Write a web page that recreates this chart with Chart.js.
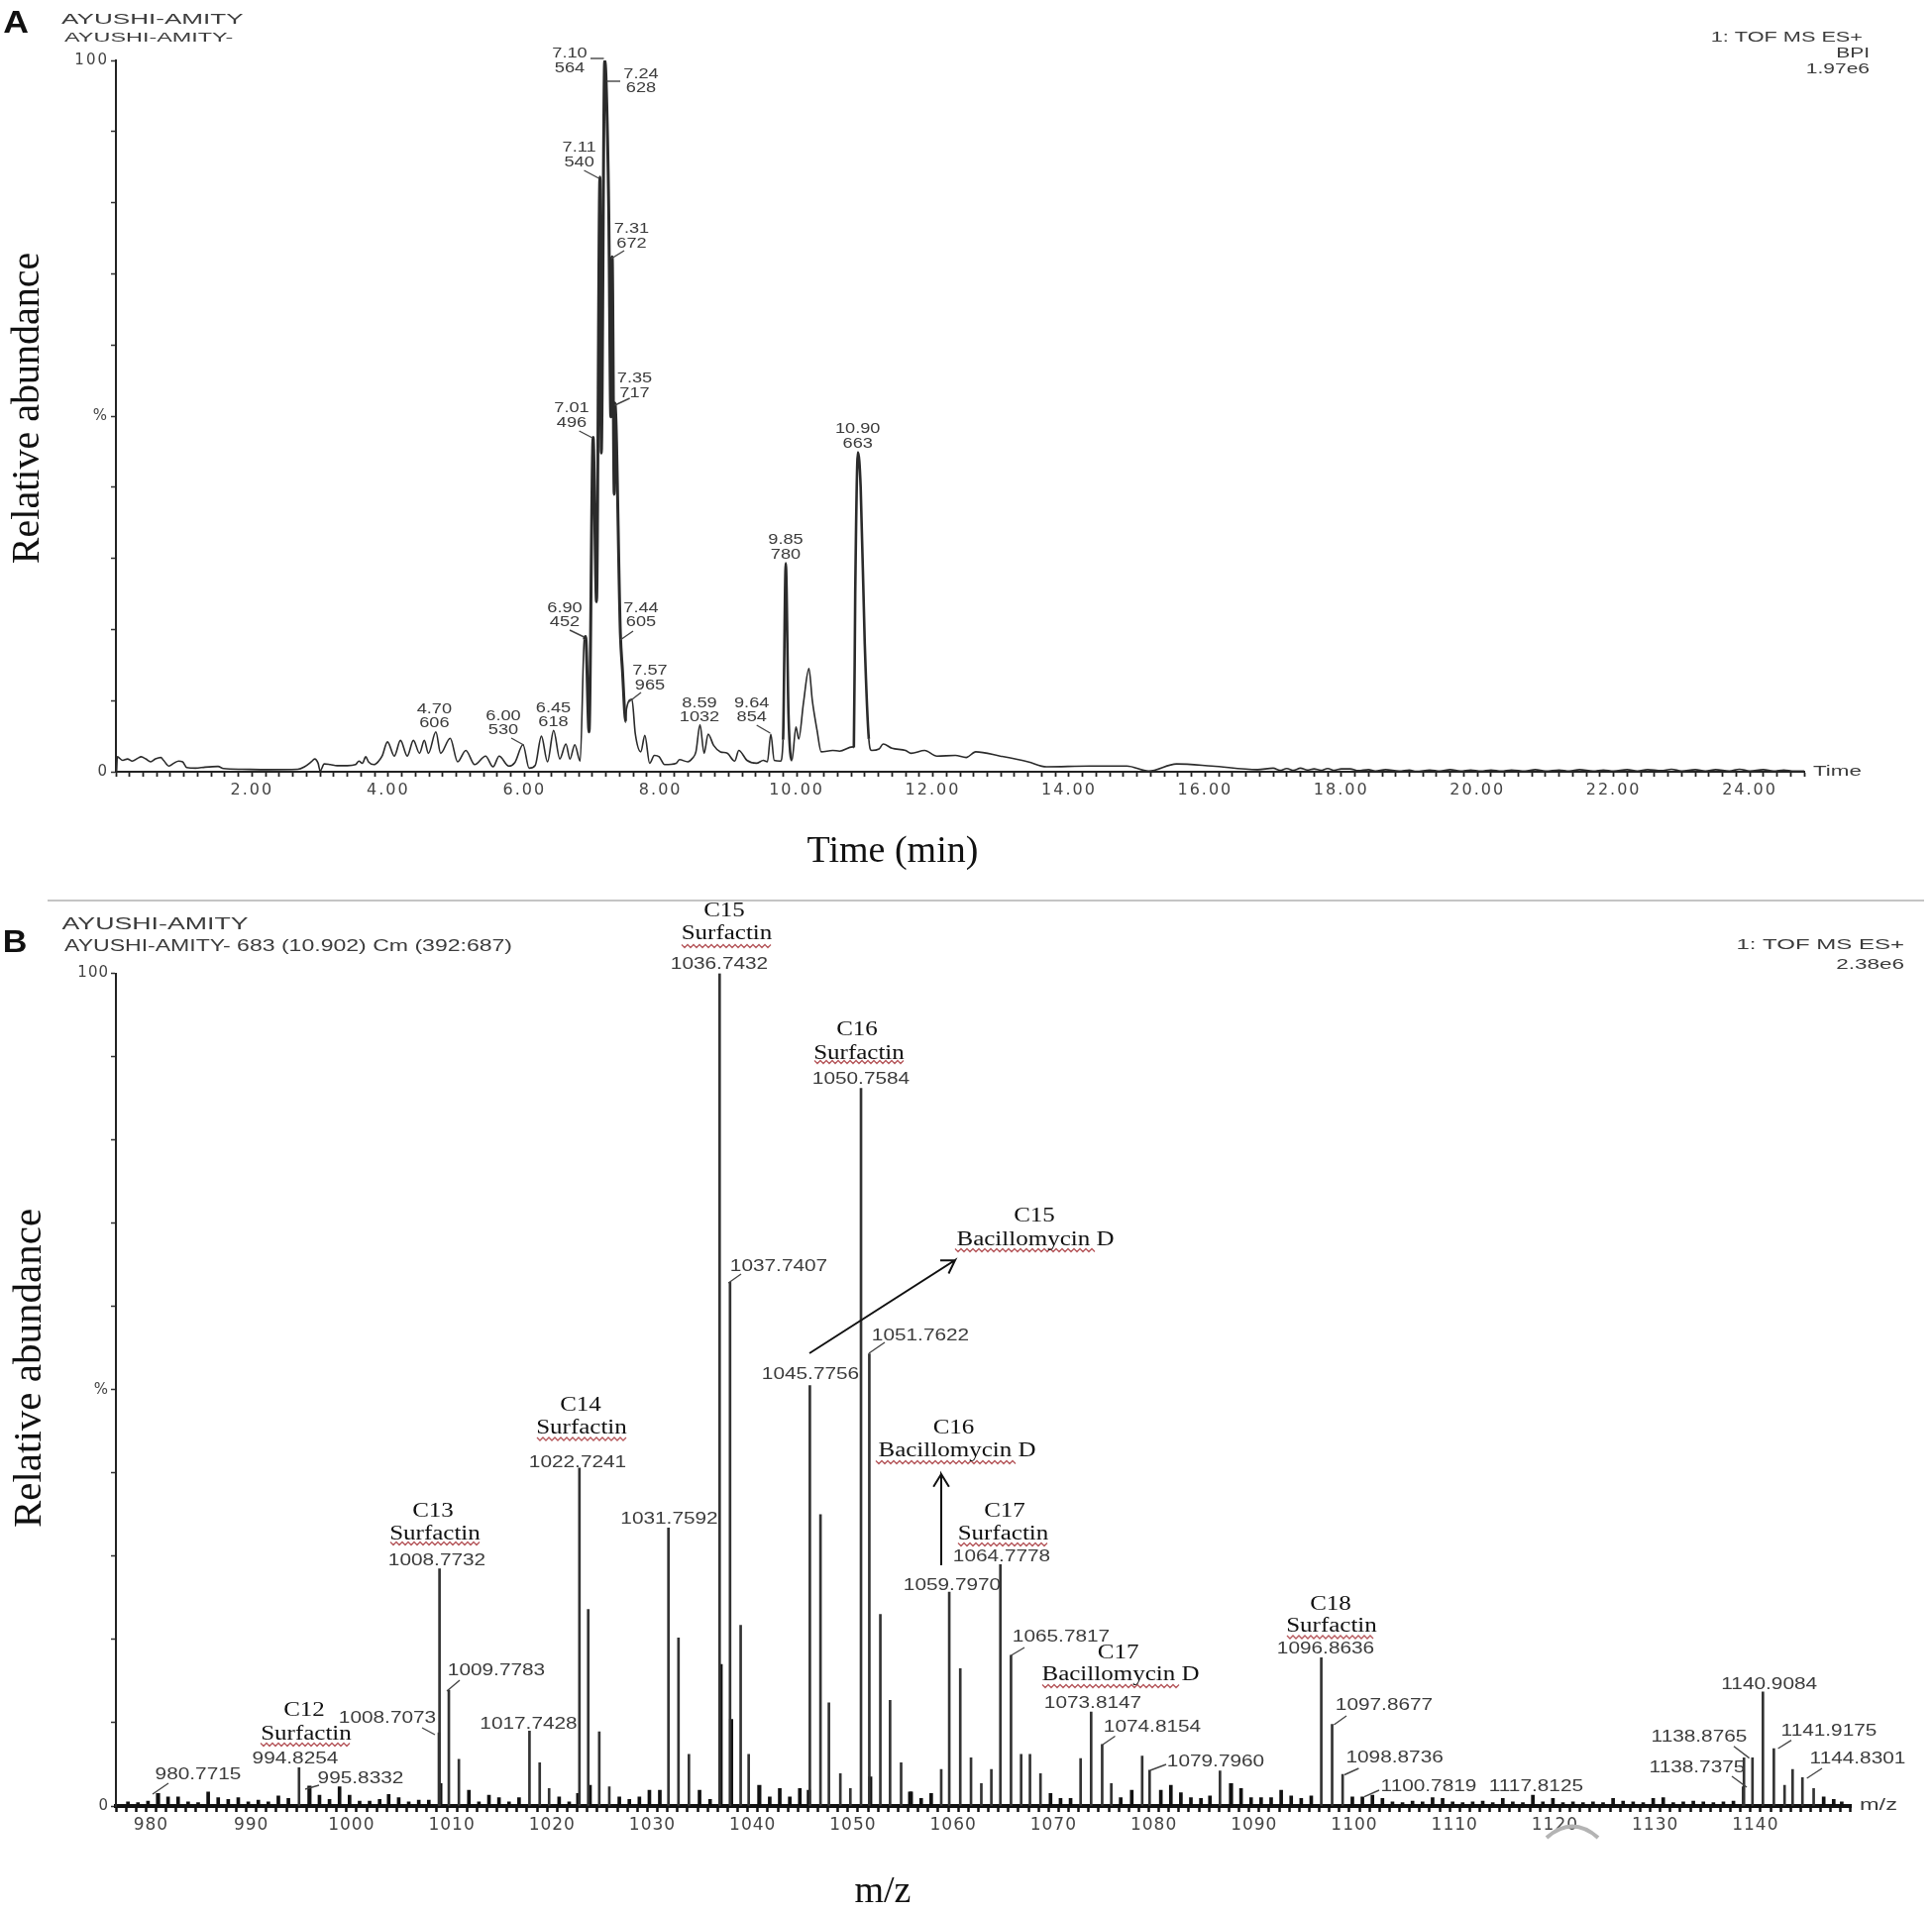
<!DOCTYPE html>
<html>
<head>
<meta charset="utf-8">
<title>TOF MS</title>
<script src="https://cdn.jsdelivr.net/npm/chart.js@4/dist/chart.umd.min.js"></script>
<style>
  html, body { margin: 0; background: #fff; }
  body { width: 1950px; height: 1932px; position: relative; overflow: hidden; }
  canvas { position: absolute; left: 0; top: 0; filter: blur(0.6px); }
</style>
</head>
<body>
<canvas id="chartA" width="1950" height="1932"></canvas>
<canvas id="chartB" width="1950" height="1932"></canvas>
<script>
// panel A - chromatogram
const timeMin = [0.01,0.02,0.1,0.17,0.24,0.32,0.37,0.44,0.51,0.58,0.66,0.7,0.78,0.85,0.92,0.98,1.04,1.17,1.31,1.5,1.58,1.85,2.23,2.67,2.77,2.87,2.92,2.97,3.0,3.06,3.15,3.25,3.4,3.52,3.57,3.62,3.67,3.71,3.79,3.86,3.91,3.99,4.09,4.18,4.28,4.37,4.46,4.53,4.59,4.7,4.77,4.91,5.02,5.14,5.27,5.43,5.54,5.63,5.77,5.86,5.98,6.07,6.16,6.25,6.34,6.43,6.52,6.61,6.67,6.74,6.82,6.88,6.9,6.95,7.01,7.06,7.11,7.13,7.18,7.2,7.24,7.27,7.29,7.32,7.33,7.41,7.44,7.49,7.5,7.58,7.63,7.71,7.77,7.84,7.91,7.98,8.06,8.23,8.28,8.4,8.47,8.52,8.58,8.64,8.7,8.78,8.88,8.98,9.09,9.15,9.27,9.41,9.51,9.57,9.62,9.67,9.76,9.8,9.84,9.88,9.93,9.99,10.03,10.1,10.18,10.23,10.3,10.36,10.53,10.63,10.82,10.84,10.86,10.9,10.94,11.0,11.06,11.1,11.21,11.27,11.4,11.6,11.68,11.88,12.06,12.33,12.49,12.63,12.99,13.4,13.67,14.3,14.85,15.17,15.58,16.1,16.77,17.0,17.1,17.2,17.3,17.4,17.5,17.6,17.7,17.8,17.9,18.0,18.13,18.25,18.4,18.5,18.65,18.85,19.0,19.1,19.3,19.45,19.6,19.75,19.9,20.05,20.2,20.35,20.5,20.7,20.85,21.0,21.2,21.35,21.5,21.7,21.85,22.0,22.2,22.35,22.5,22.7,22.85,23.0,23.2,23.35,23.5,23.7,23.85,24.0,24.2,24.35,24.5,24.65,24.8];
const abundancePct = [0,2.1,1.6,1.8,1.5,1.9,2.1,1.8,1.4,1.8,2,1.6,0.8,1.2,1.5,1.4,0.6,0.5,0.65,0.75,0.45,0.35,0.3,0.35,0.7,1.4,1.8,1.2,0.1,1.1,1,0.85,0.85,1,1.5,1.2,2.1,1.4,1,1.5,2.2,4.2,2.2,4.4,2.2,4.4,2.6,4.4,2.6,5.6,2.6,4.7,1.4,3,1,2.2,0.7,2.2,0.8,1.3,3.8,0.5,0.9,5,1.4,5.8,1.8,3.9,1.8,3.8,1.5,18.6,19,5.6,47,23.9,83.6,44.8,100,97.3,78.5,49.9,72.4,39,51.8,19.5,14.4,7,8.8,10.2,5.3,2.8,5.1,1.2,2.3,2.1,1,1.2,1.7,1.4,1.9,2.8,6.6,2.6,5.3,3.7,2.8,2.6,1.5,3,1.6,1.2,1.6,1.4,5.3,1.6,1.5,4.5,29.3,8,1.6,6.3,4.6,9.7,14.5,10,5.8,2.8,3,2.9,3.5,3.4,25,44.9,40,18,4.6,3,3.2,3.9,3.3,3,2.6,3,2.2,2.3,2,2.8,2.2,1.4,0.7,0.8,0.8,0.1,1.1,0.8,0.3,0.5,0.2,0.45,0.2,0.5,0.25,0.4,0.2,0.45,0.2,0.4,0.4,0.15,0.3,0.1,0.3,0.1,0.25,0.05,0.25,0.1,0.3,0.1,0.25,0.1,0.25,0.1,0.25,0.1,0.3,0.1,0.25,0.1,0.3,0.1,0.25,0.1,0.3,0.1,0.3,0.15,0.35,0.1,0.3,0.1,0.3,0.1,0.35,0.1,0.3,0.1,0.25,0.1,0.1];
const timeTickLabels = ["2.00","4.00","6.00","8.00","10.00","12.00","14.00","16.00","18.00","20.00","22.00","24.00"];

// panel B - mass spectrum, tall sticks
const stickMz = [994.76,1008.71,1008.77,1009.7,1010.7,1017.74,1018.76,1019.7,1022.72,1023.6,1024.7,1025.7,1031.6,1032.6,1033.64,1036.7,1037.74,1038.8,1039.6,1045.7,1046.76,1047.6,1048.74,1049.74,1050.8,1051.63,1052.73,1053.7,1054.8,1058.8,1059.6,1060.7,1061.77,1062.8,1063.8,1064.7,1065.76,1066.77,1067.65,1068.7,1072.7,1073.75,1074.85,1075.76,1078.84,1079.58,1086.6,1096.7,1097.78,1098.83,1138.76,1138.85,1139.7,1140.74,1141.83,1142.9,1143.7,1144.68,1145.8];
const stickPct = [4.6,8.8,28.5,13.9,5.6,9,5.2,2.1,40.6,23.6,8.9,2.3,33.4,20.2,6.2,100,62.9,21.7,6.2,50.5,35,12.4,3.9,2.1,86.2,54.3,23,12.7,5.2,4.4,25.7,16.5,5.8,2.7,4.4,29,18.1,6.2,6.2,3.9,5.7,11.3,7.4,2.7,6,4.3,4.2,17.8,9.8,3.8,2.3,5.8,5.8,13.7,6.9,2.5,4.4,3.4,2.1];
// short heavy stubs at the foot of the big peaks
const stubMz = [980.7,995.8,1008.85,1022.6,1023.75,1036.8,1037.85,1040.66,1045.6,1051.72,1055.7,1087.7];
const stubPct = [1.5,2.4,2.7,1.5,2.5,17,10.4,2.5,1.9,3.5,1.7,2.7];
// grass along the baseline
const grassMz = [977.7,978.7,979.7,981.7,982.7,983.7,984.7,985.7,986.7,987.7,988.7,989.7,990.7,991.7,992.7,993.7,996.8,997.8,998.8,999.8,1000.8,1001.8,1002.8,1003.7,1004.7,1005.7,1006.7,1007.7,1011.7,1012.7,1013.7,1014.7,1015.7,1016.7,1020.7,1021.7,1026.7,1027.7,1028.7,1029.7,1030.74,1034.7,1035.75,1041.7,1042.7,1043.7,1044.7,1055.8,1056.8,1057.8,1069.7,1070.7,1071.7,1076.7,1077.8,1080.7,1081.7,1082.7,1083.7,1084.7,1085.6,1088.7,1089.7,1090.7,1091.7,1092.7,1093.7,1094.7,1095.7,1099.8,1100.8,1101.8,1102.8,1103.8,1104.8,1105.8,1106.8,1107.8,1108.8,1109.8,1110.8,1111.8,1112.8,1113.8,1114.8,1115.8,1116.8,1117.8,1118.8,1119.8,1120.8,1121.8,1122.8,1123.8,1124.8,1125.8,1126.8,1127.8,1128.8,1129.8,1130.8,1131.8,1132.8,1133.8,1134.8,1135.8,1136.8,1137.8,1146.8,1147.8,1148.6];
const grassPct = [0.5,0.4,0.6,1.1,1.1,0.5,0.4,1.7,1,0.8,1,0.5,0.7,0.5,1.2,0.9,1.3,0.8,2.3,1.3,0.6,0.6,0.8,1.4,1,0.5,0.7,0.7,1.9,0.5,1.3,1,0.5,1,1.1,0.5,1.1,0.8,1.1,1.9,1.9,1.9,0.8,1.1,2.1,1.1,2.1,1.7,0.9,1.5,1.5,0.9,0.9,1,1.9,1.9,2.5,1.6,1,0.9,1.2,2.1,1,1,1,1.9,1.2,0.9,1.2,1.1,1.1,1.3,0.9,0.5,0.4,0.6,0.5,1,0.9,0.5,0.4,0.5,0.6,0.4,0.9,0.5,0.4,1.3,0.5,0.9,0.4,0.5,0.4,0.5,0.4,0.9,0.6,0.5,0.4,0.9,1,0.4,0.5,0.6,0.5,0.4,0.5,0.6,1.1,0.8,0.5];
const mzTickLabels = ["980","990","1000","1010","1020","1030","1040","1050","1060","1070","1080","1090","1100","1110","1120","1130","1140"];

// text on the picture, page pixels
const peakLabelsA = [["7.10",575,54],["564",575,69],["7.24",647,75],["628",647,89.5],["7.11",584.6,149],["540",584.6,164],["7.31",637.5,231],["672",637.5,246],["7.35",640.5,382],["717",640.5,397],["7.01",577,412],["496",577,427],["10.90",865.7,433],["663",865.7,448],["9.85",793,545],["780",793,560],["6.90",570,614],["452",570,628.5],["7.44",647,614],["605",647,628.5],["7.57",656,677],["965",656,692],["4.70",438.4,716],["606",438.4,730],["6.00",508,723],["530",508,737.6],["6.45",558.5,715],["618",558.5,729],["8.59",706,710],["1032",706,724],["9.64",758.7,710],["854",758.7,724]];
const leadersA = [[596,59,609.5,59],[612.5,82,626,82],[589.5,172,604.5,180],[617,261,630,253],[620.6,409,635.6,402],[584.6,435,598,442],[575,636,589.5,643],[626,646,639,637],[634,709,647,699],[516,745,528.6,752],[763.7,732,777.4,740]];
const peakLabelsB = [["1036.7432",726,974],["1050.7584",869,1090],["1037.7407",786,1279],["1051.7622",929,1349],["1045.7756",818,1388],["1022.7241",583,1477],["1008.7732",441,1576],["1031.7592",675.5,1534],["1009.7783",501,1687],["1008.7073",391,1735],["1017.7428",533.5,1741],["994.8254",298,1776],["980.7715",200,1792],["995.8332",364,1796],["1064.7778",1011,1572],["1059.7970",961,1601],["1065.7817",1071,1652.5],["1073.8147",1103,1720],["1074.8154",1163,1744],["1079.7960",1227,1779],["1096.8636",1338,1665],["1097.8677",1397,1722],["1098.8736",1407.6,1775],["1100.7819",1442,1803.4],["1117.8125",1550.4,1804],["1140.9084",1785.7,1701],["1138.8765",1715,1754],["1141.9175",1846,1748],["1138.7375",1713,1785],["1144.8301",1875,1776]];
const leadersB = [[735.2,1295,748,1286],[877,1366,893,1355],[451,1707,464,1696],[426,1744,439,1751],[154,1811,170,1800],[308,1806,322,1802],[1020.5,1671,1034,1663],[1113,1761,1125.5,1752.5],[1161,1787,1177,1781],[1346.4,1741,1359,1732],[1357,1791.5,1371.4,1785],[1377,1813.6,1392,1807],[1765.6,1774.6,1750,1762.7],[1794.6,1765,1808,1756.6],[1763,1804,1748,1793],[1823.7,1795,1839,1785]];
const compoundLabels = [["C15",731,920],["Surfactin",733.5,943],["C16",865,1040],["Surfactin",867,1064],["C15",1044,1228],["Bacillomycin D",1045,1252],["C14",586,1419],["Surfactin",587,1442],["C13",437,1526],["Surfactin",439,1549],["C12",307,1727],["Surfactin",309,1751],["C16",962.5,1442],["Bacillomycin D",966,1465],["C17",1014,1526],["Surfactin",1012.5,1548.5],["C17",1128.6,1669],["Bacillomycin D",1131,1690.5],["C18",1343,1620],["Surfactin",1344,1642]];
const squiggles = [[688,779,955],[822,913,1072],[964,1107,1262],[542,633,1452.5],[394,484,1558],[263,355,1761],[884,1025,1476],[967,1057,1559],[1052,1192,1702],[1299,1388,1652.5]];
const arrows = [[817,1366,964,1272],[950,1580,950,1488]];

function stretched(ctx, text, x, y, sx, align) {
  ctx.save();
  ctx.translate(x, y);
  ctx.scale(sx, 1);
  ctx.textAlign = align || "center";
  ctx.textBaseline = "middle";
  ctx.fillText(text, 0, 0);
  ctx.restore();
}

function leaders(ctx, list) {
  ctx.strokeStyle = "#444";
  ctx.lineWidth = 1.4;
  list.forEach(l => {
    ctx.beginPath();
    ctx.moveTo(l[0], l[1]);
    ctx.lineTo(l[2], l[3]);
    ctx.stroke();
  });
}

function verticalTitle(ctx, text, x, y) {
  ctx.save();
  ctx.translate(x, y);
  ctx.rotate(-Math.PI / 2);
  ctx.textAlign = "center";
  ctx.textBaseline = "middle";
  ctx.fillText(text, 0, 0);
  ctx.restore();
}

function spacedTicks(spacing) {
  return {
    id: "spacedTicks",
    beforeDraw(chart) { chart.ctx.letterSpacing = spacing; },
    afterDraw(chart) { chart.ctx.letterSpacing = "0px"; }
  };
}

const notesA = {
  id: "notesA",
  afterDraw(chart) {
    const ctx = chart.ctx;
    ctx.save();
    ctx.letterSpacing = "0px";
    ctx.fillStyle = "#3c3c3c";
    ctx.font = "14px 'Liberation Sans'";
    peakLabelsA.forEach(l => stretched(ctx, l[0], l[1], l[2], 1.3));
    leaders(ctx, leadersA);
    ctx.font = "15px 'Liberation Sans'";
    stretched(ctx, "AYUSHI-AMITY", 62, 20, 1.74, "left");
    ctx.font = "13px 'Liberation Sans'";
    stretched(ctx, "AYUSHI-AMITY-", 65, 38, 1.8, "left");
    ctx.font = "14px 'Liberation Sans'";
    stretched(ctx, "1: TOF MS ES+", 1880, 38, 1.55, "right");
    stretched(ctx, "BPI", 1887, 54, 1.5, "right");
    stretched(ctx, "1.97e6", 1887, 70, 1.5, "right");
    stretched(ctx, "Time", 1830, 779, 1.6, "left");
    ctx.fillStyle = "#111";
    ctx.font = "bold 31px 'Liberation Sans'";
    stretched(ctx, "A", 16, 24, 1.15);
    ctx.font = "40px 'Liberation Serif'";
    verticalTitle(ctx, "Relative abundance", 28, 412);
    ctx.font = "38px 'Liberation Serif'";
    ctx.textAlign = "center";
    ctx.textBaseline = "middle";
    ctx.fillText("Time (min)", 901, 860);
    ctx.restore();
  }
};

const notesB = {
  id: "notesB",
  afterDraw(chart) {
    const ctx = chart.ctx;
    ctx.save();
    ctx.letterSpacing = "0px";
    // page divider between the panels
    ctx.strokeStyle = "#c4c4c4";
    ctx.lineWidth = 2;
    ctx.beginPath();
    ctx.moveTo(48, 909);
    ctx.lineTo(1942, 909);
    ctx.stroke();

    ctx.strokeStyle = "#b5565a";
    ctx.lineWidth = 1.3;
    squiggles.forEach(s => {
      ctx.beginPath();
      for (let x = s[0], up = true; x <= s[1]; x += 3, up = !up) {
        ctx.lineTo(x, s[2] + (up ? -1.5 : 1.5));
      }
      ctx.stroke();
    });

    ctx.fillStyle = "#3c3c3c";
    ctx.font = "16px 'Liberation Sans'";
    peakLabelsB.forEach(l => stretched(ctx, l[0], l[1], l[2], 1.3));
    leaders(ctx, leadersB);

    ctx.fillStyle = "#111";
    ctx.font = "20px 'Liberation Serif'";
    compoundLabels.forEach(l => stretched(ctx, l[0], l[1], l[2], 1.25));

    ctx.strokeStyle = "#111";
    ctx.lineWidth = 2;
    arrows.forEach(a => {
      const ang = Math.atan2(a[3] - a[1], a[2] - a[0]);
      ctx.beginPath();
      ctx.moveTo(a[0], a[1]);
      ctx.lineTo(a[2], a[3]);
      ctx.lineTo(a[2] - 15 * Math.cos(ang - 0.55), a[3] - 15 * Math.sin(ang - 0.55));
      ctx.moveTo(a[2], a[3]);
      ctx.lineTo(a[2] - 15 * Math.cos(ang + 0.55), a[3] - 15 * Math.sin(ang + 0.55));
      ctx.stroke();
    });

    // grey smudge under the 1120 label
    ctx.strokeStyle = "#b4b4b4";
    ctx.lineWidth = 4;
    ctx.beginPath();
    ctx.moveTo(1561, 1855);
    ctx.quadraticCurveTo(1587, 1832, 1613, 1855);
    ctx.stroke();

    ctx.fillStyle = "#3c3c3c";
    ctx.font = "16px 'Liberation Sans'";
    stretched(ctx, "AYUSHI-AMITY", 62.5, 934, 1.67, "left");
    stretched(ctx, "AYUSHI-AMITY- 683 (10.902) Cm (392:687)", 65, 956, 1.44, "left");
    ctx.font = "15px 'Liberation Sans'";
    stretched(ctx, "1: TOF MS ES+", 1922, 954, 1.6, "right");
    stretched(ctx, "2.38e6", 1922, 974, 1.5, "right");
    ctx.font = "16px 'Liberation Sans'";
    stretched(ctx, "m/z", 1877, 1823, 1.47, "left");

    ctx.fillStyle = "#111";
    ctx.font = "bold 31px 'Liberation Sans'";
    stretched(ctx, "B", 15, 952, 1.1);
    ctx.font = "41px 'Liberation Serif'";
    verticalTitle(ctx, "Relative abundance", 30, 1381);
    ctx.font = "38px 'Liberation Serif'";
    ctx.textAlign = "center";
    ctx.textBaseline = "middle";
    ctx.fillText("m/z", 891, 1910);
    ctx.restore();
  }
};

function pctAxis() {
  return {
    min: 0,
    max: 100,
    afterFit(axis) { axis.width = 117; },
    border: { color: "#222", width: 2 },
    grid: { drawOnChartArea: false, tickLength: 5, tickColor: "#333", tickWidth: 1.5 },
    ticks: {
      stepSize: 10,
      padding: 2,
      color: "#444",
      font: { family: "'DejaVu Sans'", size: 15 },
      callback: v => v === 100 ? "100" : v === 50 ? "%" : v === 0 ? "0" : ""
    }
  };
}

// the tall peaks print heavier than the rest of the trace
function traceWidth(seg) {
  const t = seg.p0.parsed.x;
  if (t >= 6.85 && t <= 7.45) return 3;
  if ((t >= 9.8 && t <= 9.88) || (t >= 10.84 && t <= 11)) return 2.6;
  return 1.6;
}

const chartA = new Chart(document.getElementById("chartA"), {
  type: "line",
  data: {
    datasets: [{
      data: timeMin.map((t, i) => ({ x: t, y: abundancePct[i] })),
      borderColor: "#2b2b2b",
      borderWidth: 1.6,
      pointRadius: 0,
      cubicInterpolationMode: "monotone",
      segment: { borderWidth: traceWidth }
    }]
  },
  options: {
    responsive: false,
    animation: false,
    devicePixelRatio: 1,
    layout: { padding: { top: 61, right: 129, bottom: 1113 } },
    plugins: { legend: { display: false }, tooltip: { enabled: false } },
    scales: {
      x: {
        type: "linear",
        min: 0,
        max: 24.8,
        afterFit(axis) { axis.height = 40; },
        border: { color: "#222", width: 2 },
        grid: { drawOnChartArea: false, tickLength: 5, tickColor: "#222", tickWidth: 1.8 },
        ticks: {
          stepSize: 0.2,
          autoSkip: false,
          maxRotation: 0,
          padding: 4,
          color: "#444",
          font: { family: "'DejaVu Sans'", size: 16 },
          callback: v => {
            const s = v.toFixed(2);
            return timeTickLabels.includes(s) ? s : "";
          }
        }
      },
      y: pctAxis()
    }
  },
  plugins: [spacedTicks("2px"), notesA]
});

const chartB = new Chart(document.getElementById("chartB"), {
  type: "bar",
  data: {
    datasets: [
      {
        data: grassMz.map((m, i) => ({ x: m, y: grassPct[i] })),
        backgroundColor: "#111",
        barThickness: 3,
        grouped: false
      },
      {
        data: stickMz.map((m, i) => ({ x: m, y: stickPct[i] })),
        backgroundColor: "#333",
        barThickness: 2,
        grouped: false
      },
      {
        data: stubMz.map((m, i) => ({ x: m, y: stubPct[i] })),
        backgroundColor: "#111",
        barThickness: 3.5,
        grouped: false
      }
    ]
  },
  options: {
    responsive: false,
    animation: false,
    devicePixelRatio: 1,
    layout: { padding: { top: 982.5, right: 82, bottom: 69 } },
    plugins: { legend: { display: false }, tooltip: { enabled: false } },
    scales: {
      x: {
        type: "linear",
        min: 977,
        max: 1149,
        afterFit(axis) { axis.height = 40; },
        border: { color: "#111", width: 4 },
        grid: { drawOnChartArea: false, tickLength: 6, tickColor: "#111", tickWidth: 2.5 },
        ticks: {
          stepSize: 1,
          autoSkip: false,
          maxRotation: 0,
          padding: 3,
          color: "#444",
          font: { family: "'DejaVu Sans'", size: 17 },
          callback: v => mzTickLabels.includes(String(v)) ? String(v) : ""
        }
      },
      y: pctAxis()
    }
  },
  plugins: [spacedTicks("1px"), notesB]
});
</script>
</body>
</html>
